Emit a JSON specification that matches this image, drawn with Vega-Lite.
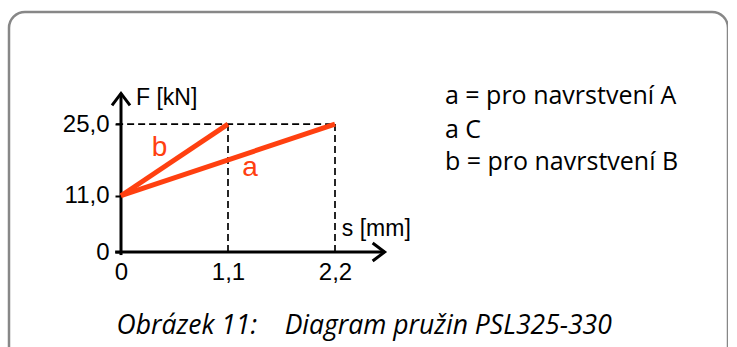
{
  "$schema": "https://vega.github.io/schema/vega-lite/v6.json",
  "width": 719,
  "height": 360,
  "autosize": "none",
  "padding": {"left": 9, "top": 12, "right": 0, "bottom": 0},
  "background": "white",
  "config": {
    "view": {"stroke": "#878787", "strokeWidth": 2.5, "cornerRadius": 16},
    "axis": {"grid": false, "domain": false, "title": null, "labelFont": "Liberation Sans", "labelFontSize": 24, "labelColor": "black"}
  },
  "datasets": {
    "springs": [
      {"s": 0, "F": 11, "spring": "a"},
      {"s": 2.2, "F": 25, "spring": "a"},
      {"s": 0, "F": 11, "spring": "b"},
      {"s": 1.1, "F": 25, "spring": "b"}
    ],
    "axislines": [
      {"s": -0.06, "F": 0, "s2": 2.71, "F2": 0},
      {"s": 0, "F": -0.6, "s2": 0, "F2": 31}
    ],
    "arrows": [
      {"s": 0, "F": 31, "dir": "up"},
      {"s": 2.71, "F": 0, "dir": "right"}
    ],
    "guides": [
      {"s": -0.05, "F": 25, "s2": 2.2, "F2": 25},
      {"s": 1.1, "F": 0, "s2": 1.1, "F2": 25},
      {"s": 2.2, "F": 0, "s2": 2.2, "F2": 25}
    ],
    "serieslabels": [
      {"label": "b", "s": 0.396, "F": 20.4},
      {"label": "a", "s": 1.326, "F": 16.35}
    ],
    "axistitles": [
      {"label": "F [kN]", "s": 0.154, "F": 30.1},
      {"label": "s [mm]", "s": 2.27, "F": 4.5}
    ],
    "legendlines": [
      {"label": "a = pro navrstvení A", "s": 3.33, "F": 28.95},
      {"label": "a C", "s": 3.33, "F": 22.37},
      {"label": "b = pro navrstvení B", "s": 3.33, "F": 15.98}
    ],
    "caption": [
      {"label": "Obrázek 11:\u00a0\u00a0\u00a0\u00a0Diagram pružin PSL325-330", "s": 2.5, "F": -14.4}
    ]
  },
  "layer": [
    {
      "data": {"name": "guides"},
      "mark": {"type": "rule", "strokeDash": [7, 4], "strokeWidth": 1.7, "color": "black"},
      "encoding": {
        "x": {"field": "s", "type": "quantitative", "scale": {"domain": [0, 2.2], "range": [112, 326]},
          "axis": {"orient": "bottom", "offset": -120, "values": [0, 1.1, 2.2], "ticks": false, "labelPadding": 8, "labelFlush": false,
            "labelExpr": "datum.value == 0 ? '0' : replace(format(datum.value, '.1f'), '.', ',')"}},
        "y": {"field": "F", "type": "quantitative", "scale": {"domain": [0, 25], "range": [240, 107]},
          "axis": {"orient": "left", "offset": -112, "values": [0, 11, 25], "tickSize": 6, "tickWidth": 2, "tickColor": "black", "labelPadding": 6, "labelFlush": false,
            "labelExpr": "datum.value == 0 ? '0' : replace(format(datum.value, '.1f'), '.', ',')"}},
        "x2": {"field": "s2"},
        "y2": {"field": "F2"}
      }
    },
    {
      "data": {"name": "axislines"},
      "mark": {"type": "rule", "strokeWidth": 3, "color": "black"},
      "encoding": {
        "x": {"field": "s", "type": "quantitative"},
        "y": {"field": "F", "type": "quantitative"},
        "x2": {"field": "s2"},
        "y2": {"field": "F2"}
      }
    },
    {
      "data": {"name": "arrows"},
      "mark": {"type": "point", "filled": false, "stroke": "black", "strokeWidth": 3, "size": 324, "strokeJoin": "miter", "opacity": 1},
      "encoding": {
        "x": {"field": "s", "type": "quantitative"},
        "y": {"field": "F", "type": "quantitative"},
        "shape": {"field": "dir", "type": "nominal", "legend": null,
          "scale": {"domain": ["up", "right"], "range": ["M-1,1.33L0,0L1,1.33", "M-1.33,-1L0,0L-1.33,1"]}}
      }
    },
    {
      "data": {"name": "springs"},
      "mark": {"type": "line", "strokeWidth": 5, "color": "#ff4010", "strokeCap": "butt"},
      "encoding": {
        "x": {"field": "s", "type": "quantitative"},
        "y": {"field": "F", "type": "quantitative"},
        "detail": {"field": "spring"}
      }
    },
    {
      "data": {"name": "serieslabels"},
      "mark": {"type": "text", "font": "Liberation Sans", "fontSize": 28, "color": "#ff4010", "align": "center", "baseline": "middle"},
      "encoding": {
        "x": {"field": "s", "type": "quantitative"},
        "y": {"field": "F", "type": "quantitative"},
        "text": {"field": "label"}
      }
    },
    {
      "data": {"name": "axistitles"},
      "mark": {"type": "text", "font": "Liberation Sans", "fontSize": 23, "color": "black", "align": "left", "baseline": "middle"},
      "encoding": {
        "x": {"field": "s", "type": "quantitative"},
        "y": {"field": "F", "type": "quantitative"},
        "text": {"field": "label"}
      }
    },
    {
      "data": {"name": "legendlines"},
      "mark": {"type": "text", "font": "Open Sans", "fontSize": 25, "color": "black", "align": "left", "baseline": "alphabetic"},
      "encoding": {
        "x": {"field": "s", "type": "quantitative"},
        "y": {"field": "F", "type": "quantitative"},
        "text": {"field": "label"}
      }
    },
    {
      "data": {"name": "caption"},
      "mark": {"type": "text", "font": "Open Sans", "fontStyle": "italic", "fontSize": 26.5, "color": "black", "align": "center", "baseline": "middle"},
      "encoding": {
        "x": {"field": "s", "type": "quantitative"},
        "y": {"field": "F", "type": "quantitative"},
        "text": {"field": "label"}
      }
    }
  ]
}
